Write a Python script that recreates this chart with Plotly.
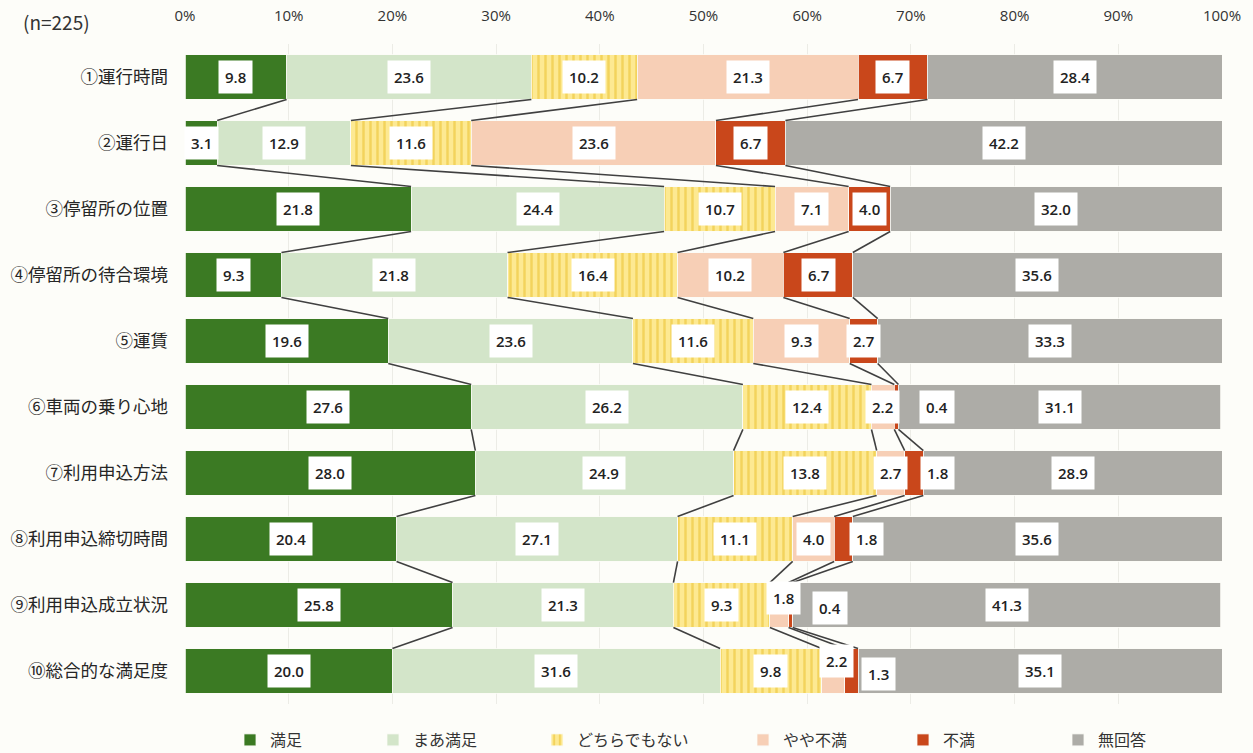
import plotly.graph_objects as go

# Survey items (n=225), percentages per response category
items = [
    "①運行時間", "②運行日", "③停留所の位置", "④停留所の待合環境", "⑤運賃",
    "⑥車両の乗り心地", "⑦利用申込方法", "⑧利用申込締切時間", "⑨利用申込成立状況", "⑩総合的な満足度",
]
series_names = ["満足", "まあ満足", "どちらでもない", "やや不満", "不満", "無回答"]

manzoku = [9.8, 3.1, 21.8, 9.3, 19.6, 27.6, 28.0, 20.4, 25.8, 20.0]
maa_manzoku = [23.6, 12.9, 24.4, 21.8, 23.6, 26.2, 24.9, 27.1, 21.3, 31.6]
dochiramo = [10.2, 11.6, 10.7, 16.4, 11.6, 12.4, 13.8, 11.1, 9.3, 9.8]
yaya_fuman = [21.3, 23.6, 7.1, 10.2, 9.3, 2.2, 2.7, 4.0, 1.8, 2.2]
fuman = [6.7, 6.7, 4.0, 6.7, 2.7, 0.4, 1.8, 1.8, 0.4, 1.3]
mukaitou = [28.4, 42.2, 32.0, 35.6, 33.3, 31.1, 28.9, 35.6, 41.3, 35.1]

values = [manzoku, maa_manzoku, dochiramo, yaya_fuman, fuman, mukaitou]

x_ticks = [0, 10, 20, 30, 40, 50, 60, 70, 80, 90, 100]

colors = ["#3b7a23", "#d3e5c9", "#fde68f", "#f7cfb6", "#c9471b", "#adaca7"]

# Label nudges for narrow segments: (row, series) -> (dx in %, dy in rows)
label_nudge = {
    (5, 4): (3.9, 0.0),
    (6, 4): (2.3, 0.0),
    (7, 4): (2.2, 0.0),
    (8, 3): (0.4, -0.1),
    (8, 4): (3.8, 0.05),
    (9, 3): (0.3, -0.15),
    (9, 4): (2.6, 0.05),
}

# Left edge (container x, px) of each legend entry along the bottom row
legend_px = [230, 373, 537, 743, 903, 1058]

ypos = list(range(len(items)))
bar_w = 0.68

fig = go.Figure()
for k, (name, vals) in enumerate(zip(series_names, values)):
    marker = dict(color=colors[k], line=dict(width=0.8, color="#fbfbf6"))
    if k == 2:
        marker["pattern"] = dict(shape="|", fgcolor="#f3d35c", bgcolor="#fde992",
                                 size=7, solidity=0.35, fillmode="replace")
    fig.add_trace(go.Bar(
        y=ypos, x=vals, name=name, orientation="h", width=bar_w,
        marker=marker, hoverinfo="x+name", showlegend=True,
        legend="legend" if k == 0 else f"legend{k + 1}",
    ))

# Cumulative boundaries per row
cums = []
for i in range(len(items)):
    c, row = 0.0, []
    for vals in values:
        c += vals[i]
        row.append(c)
    cums.append(row)

# Connector lines between consecutive bars at each segment boundary
shapes = []
half = bar_w / 2
for i in range(len(items) - 1):
    for k in range(len(values) - 1):
        shapes.append(dict(
            type="line", xref="x", yref="y",
            x0=cums[i][k], y0=i + half, x1=cums[i + 1][k], y1=i + 1 - half,
            line=dict(color="#404040", width=1.6), layer="above",
        ))

# Value labels in white boxes
annotations = []
for i in range(len(items)):
    start = 0.0
    for k, vals in enumerate(values):
        v = vals[i]
        dx, dy = label_nudge.get((i, k), (0.0, 0.0))
        annotations.append(dict(
            x=start + v / 2 + dx, y=i + dy, xref="x", yref="y",
            text=f"{v:.1f}", showarrow=False,
            font=dict(family="Open Sans, Noto Sans CJK JP", size=15,
                      color="#222222", weight=600),
            bgcolor="#ffffff", borderpad=6,
        ))
        start += v

annotations.append(dict(
    x=-129 / 1037, y=1 + 22 / 660, xref="paper", yref="paper",
    xanchor="center", yanchor="middle", text="(n=225)", showarrow=False,
    font=dict(family="Noto Sans CJK JP", size=19, color="#333333"),
))

W, H = 1253, 753
legend_style = dict(
    orientation="h", xref="container", yref="container",
    y=(H - 723) / H, xanchor="left", yanchor="top",
    font=dict(size=16, color="#333333"), itemwidth=30,
    bgcolor="rgba(0,0,0,0)", borderwidth=0,
)
legends = {}
for k, px in enumerate(legend_px):
    key = "legend" if k == 0 else f"legend{k + 1}"
    legends[key] = dict(x=px / W, **legend_style)

fig.update_layout(
    width=W, height=H,
    margin=dict(l=185, r=31, t=44, b=49, autoexpand=False),
    barmode="stack", showlegend=True,
    paper_bgcolor="#fdfdf9", plot_bgcolor="#fdfdf9",
    shapes=shapes, annotations=annotations,
    font=dict(family="Noto Sans CJK JP", color="#333333"),
    **legends,
)
fig.update_xaxes(
    range=[0, 100], side="top", tickvals=x_ticks,
    ticktext=[f"{t}%" for t in x_ticks],
    showgrid=True, gridcolor="#ecece6", gridwidth=1, zeroline=False,
    tickfont=dict(family="Open Sans, Noto Sans CJK JP", size=15, color="#333333"),
    ticklabelstandoff=19, fixedrange=True, automargin=False,
)
fig.update_yaxes(
    range=[len(items) - 0.5, -0.5], tickvals=ypos, ticktext=items,
    showgrid=False, zeroline=False,
    tickfont=dict(family="Noto Sans CJK JP", size=17.5, color="#262626"),
    ticklabelstandoff=16, fixedrange=True, automargin=False,
)

fig.write_html("out.html")
